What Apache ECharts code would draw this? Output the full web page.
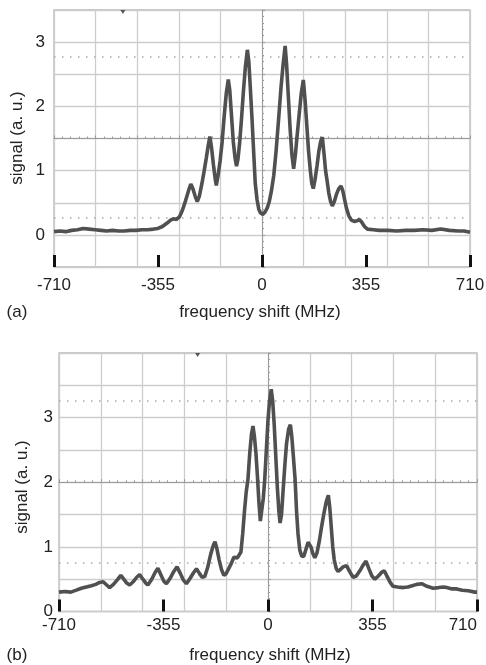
<!DOCTYPE html>
<html>
<head>
<meta charset="utf-8">
<script src="https://cdn.jsdelivr.net/npm/echarts@6/dist/echarts.min.js"></script>
<style>html,body{margin:0;padding:0;background:#fff}#c{width:486px;height:665px}</style>
</head>
<body>
<div id="c"></div>
<script>
// ---- data ----
const xTicks = [-710, -355, 0, 355, 710];
const yTicksA = [0, 1, 2, 3];
const yTicksB = [0, 1, 2, 3];

const freqA = [-710,-690,-670,-650,-630,-610,-590,-570,-550,-530,-510,-490,-470,-450,-430,-410,-390,-370,-355,-340,-325,-312,-303,-292,-282,-272,-261,-250,-243,-236,-228,-221,-214,-205,-198,-190,-184,-178,-172,-166,-160,-156,-150,-143,-136,-129,-122,-115,-110,-104,-98,-92,-87,-82,-76,-70,-64,-57,-50,-45,-40,-34,-28,-23,-17,-11,-5,3,11,18,25,32,40,48,57,65,72,79,84,90,96,102,108,114,120,127,134,141,147,153,159,165,170,175,181,188,194,200,206,212,217,222,228,234,240,247,254,262,270,276,282,288,296,305,315,325,332,340,350,360,380,400,430,460,490,520,550,580,610,640,670,690,710];
const sigA = [0.05,0.06,0.05,0.07,0.08,0.10,0.09,0.08,0.07,0.06,0.07,0.06,0.06,0.07,0.07,0.08,0.08,0.09,0.10,0.13,0.18,0.23,0.25,0.24,0.28,0.38,0.53,0.70,0.79,0.72,0.60,0.52,0.60,0.80,0.98,1.20,1.38,1.53,1.35,1.10,0.88,0.77,0.92,1.15,1.45,1.85,2.20,2.42,2.25,1.85,1.45,1.20,1.07,1.18,1.45,1.80,2.20,2.60,2.88,2.70,2.30,1.80,1.25,0.80,0.55,0.40,0.34,0.32,0.36,0.42,0.52,0.68,0.92,1.30,1.82,2.30,2.65,2.94,2.65,2.15,1.65,1.25,1.03,1.25,1.55,1.88,2.20,2.41,2.10,1.70,1.30,1.00,0.80,0.72,0.86,1.08,1.30,1.45,1.52,1.25,1.00,0.85,0.65,0.52,0.45,0.52,0.63,0.72,0.76,0.68,0.55,0.42,0.30,0.23,0.21,0.22,0.24,0.20,0.13,0.09,0.08,0.07,0.07,0.06,0.07,0.07,0.08,0.07,0.09,0.07,0.06,0.06,0.04];

const freqB = [-710,-690,-670,-651,-634,-617,-600,-585,-572,-560,-548,-538,-525,-510,-500,-490,-480,-470,-458,-446,-436,-425,-415,-408,-395,-384,-374,-364,-354,-345,-333,-320,-309,-298,-288,-277,-265,-253,-243,-233,-224,-215,-205,-195,-186,-180,-174,-166,-158,-150,-143,-134,-125,-116,-110,-104,-98,-92,-86,-80,-74,-68,-62,-56,-51,-46,-41,-36,-31,-26,-22,-16,-11,-5,0,5,11,16,21,27,32,37,41,46,51,57,63,70,76,81,87,92,97,102,108,115,122,130,136,140,146,152,159,166,174,182,190,198,205,210,215,220,225,232,238,246,255,267,277,289,300,312,322,333,343,353,363,375,387,395,405,415,425,440,459,475,490,505,522,540,561,580,596,607,625,641,660,680,703,710];
const sigB = [0.30,0.31,0.30,0.33,0.36,0.38,0.40,0.42,0.45,0.46,0.41,0.37,0.42,0.50,0.56,0.50,0.44,0.41,0.46,0.53,0.57,0.50,0.44,0.41,0.50,0.60,0.67,0.57,0.47,0.43,0.51,0.62,0.69,0.59,0.49,0.43,0.51,0.60,0.66,0.59,0.53,0.54,0.68,0.88,1.02,1.08,0.98,0.80,0.65,0.56,0.58,0.66,0.74,0.84,0.87,0.83,0.82,0.92,1.20,1.55,1.85,2.05,2.45,2.75,2.87,2.70,2.45,2.10,1.70,1.40,1.42,1.75,2.05,2.55,2.96,3.25,3.44,3.25,2.90,2.35,1.90,1.55,1.37,1.50,1.85,2.25,2.60,2.82,2.89,2.70,2.35,2.05,1.55,1.20,0.95,0.85,0.86,0.98,1.07,1.10,1.00,0.90,0.83,0.90,1.08,1.31,1.52,1.70,1.80,1.60,1.30,1.00,0.80,0.66,0.62,0.65,0.69,0.71,0.62,0.53,0.55,0.63,0.71,0.78,0.66,0.55,0.50,0.55,0.61,0.63,0.54,0.45,0.39,0.38,0.37,0.38,0.40,0.42,0.43,0.39,0.36,0.37,0.38,0.37,0.35,0.35,0.33,0.32,0.30,0.30];

const cursorA = [2.77, 0.26];
const cursorB = [3.26, 0.75];
const triggerA = -475;
const triggerB = -239;

// ---- styling ----
const FONT = 'Liberation Sans, Arial, sans-serif';
const TXT = '#222';
const GRIDC = '#cdcdcd';
const CENTERC = '#9a9a9a';
const TRACE = '#505050';

const G = [
  {left: 54, top: 10, width: 416, height: 257},
  {left: 59, top: 353, width: 418, height: 258.5}
];

function pairs(xs, ys) { return xs.map((x, i) => [x, ys[i]]); }

function xAxesFor(gi, alignMax) {
  return [
    { gridIndex: gi, type: 'value', position: 'bottom', min: -710, max: 710, interval: 142,
      splitLine: {show: true, lineStyle: {color: GRIDC, width: 1.3}},
      axisLine: {show: false, onZero: false}, axisTick: {show: false}, axisLabel: {show: false} },
    { gridIndex: gi, type: 'value', position: 'bottom', min: -710, max: 710, interval: 355,
      splitLine: {show: false},
      axisLine: {show: false, onZero: false},
      axisTick: {show: true, inside: true, length: 12, lineStyle: {color: '#111', width: 3}},
      axisLabel: {show: true, fontSize: 17, fontFamily: FONT, color: TXT, margin: gi === 0 ? 10 : 5,
        alignMaxLabel: alignMax ? 'right' : null,
        formatter: v => xTicks.indexOf(v) >= 0 ? String(v) : ''} },
    { gridIndex: gi, type: 'value', min: -710, max: 710, interval: 142, position: 'bottom',
      offset: -G[gi].height / 2,
      splitLine: {show: false},
      axisLine: {show: true, onZero: false, lineStyle: {color: CENTERC, width: 1}},
      axisTick: {show: true, inside: true, length: 3, lineStyle: {color: CENTERC}},
      minorTick: {show: true, splitNumber: 5, length: 2, lineStyle: {color: CENTERC}},
      axisLabel: {show: false} }
  ];
}

function yAxesFor(gi, min, max, ticks) {
  return [
    { gridIndex: gi, type: 'value', position: 'left', min: min, max: max, interval: 0.5,
      splitLine: {show: true, lineStyle: {color: GRIDC, width: 1.3}},
      axisLine: {show: false, onZero: false}, axisTick: {show: false},
      axisLabel: {show: true, fontSize: 17, fontFamily: FONT, color: TXT, margin: gi === 0 ? 9 : 6,
        formatter: v => { const r = Math.round(v); return (Math.abs(v - r) < 1e-6 && ticks.indexOf(r) >= 0) ? String(r) : ''; }} },
    { gridIndex: gi, type: 'value', min: min, max: max, interval: 0.5, position: 'left',
      offset: -G[gi].width / 2,
      splitLine: {show: false},
      axisLine: {show: true, onZero: false, lineStyle: {color: CENTERC, width: 1}},
      axisTick: {show: true, inside: true, length: 3, lineStyle: {color: CENTERC}},
      minorTick: {show: true, splitNumber: 5, length: 2, lineStyle: {color: CENTERC}},
      axisLabel: {show: false} }
  ];
}

function traceSeries(gi, xs, ys, cursors, trig, ymax) {
  return {
    type: 'line', xAxisIndex: gi * 3, yAxisIndex: gi * 2,
    data: pairs(xs, ys), showSymbol: false, symbol: 'none', animation: false,
    lineStyle: {color: TRACE, width: 3.6}, z: 5,
    markLine: { silent: true, symbol: 'none', animation: false, label: {show: false},
      lineStyle: {type: [1.5, 6.5], color: '#a8a8a8', width: 1.5},
      data: cursors.map(c => ({yAxis: c})) },
    markPoint: { silent: true, animation: false, label: {show: false},
      data: [{coord: [trig, ymax], symbol: 'triangle', symbolRotate: 180, symbolSize: [5, 4], symbolOffset: [0, 2],
              itemStyle: {color: '#555'}}] }
  };
}

const chart = echarts.init(document.getElementById('c'), null, {renderer: 'canvas'});
chart.setOption({
  animation: false,
  backgroundColor: '#fff',
  grid: G.map(g => Object.assign({show: true, borderColor: '#b5b5b5', borderWidth: 1.3, backgroundColor: 'transparent',
    containLabel: false, outerBoundsMode: 'none'}, g)),
  xAxis: xAxesFor(0, false).concat(xAxesFor(1, true)),
  yAxis: yAxesFor(0, -0.5, 3.5, yTicksA).concat(yAxesFor(1, 0, 4, yTicksB)),
  series: [
    traceSeries(0, freqA, sigA, cursorA, triggerA, 3.5),
    traceSeries(1, freqB, sigB, cursorB, triggerB, 4)
  ],
  graphic: [
    {type: 'text', x: 17, y: 312, style: {text: '(a)', font: '17px ' + FONT, fill: TXT, align: 'center', verticalAlign: 'middle', textAlign: 'center', textVerticalAlign: 'middle'}},
    {type: 'text', x: 260, y: 312, style: {text: 'frequency shift (MHz)', font: '17px ' + FONT, fill: TXT, align: 'center', verticalAlign: 'middle', textAlign: 'center', textVerticalAlign: 'middle'}},
    {type: 'text', x: 17, y: 138, rotation: Math.PI / 2, style: {text: 'signal (a. u.)', font: '17px ' + FONT, fill: TXT, align: 'center', verticalAlign: 'middle', textAlign: 'center', textVerticalAlign: 'middle'}},
    {type: 'text', x: 17, y: 655, style: {text: '(b)', font: '17px ' + FONT, fill: TXT, align: 'center', verticalAlign: 'middle', textAlign: 'center', textVerticalAlign: 'middle'}},
    {type: 'text', x: 270, y: 655, style: {text: 'frequency shift (MHz)', font: '17px ' + FONT, fill: TXT, align: 'center', verticalAlign: 'middle', textAlign: 'center', textVerticalAlign: 'middle'}},
    {type: 'text', x: 22, y: 487, rotation: Math.PI / 2, style: {text: 'signal (a. u.)', font: '17px ' + FONT, fill: TXT, align: 'center', verticalAlign: 'middle', textAlign: 'center', textVerticalAlign: 'middle'}}
  ]
});
</script>
</body>
</html>
